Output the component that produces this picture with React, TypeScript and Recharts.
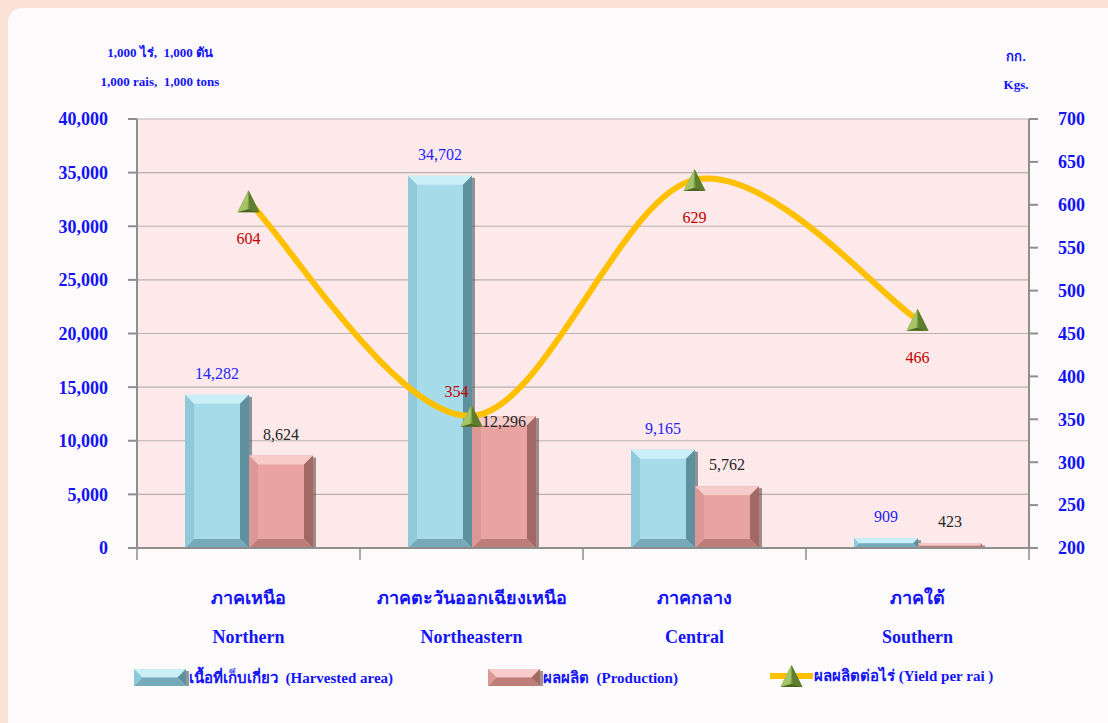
import React from 'react';
import { ComposedChart, Bar, Line, XAxis, YAxis, CartesianGrid, LabelList } from 'recharts';

const regionsTh = ['ภาคเหนือ', 'ภาคตะวันออกเฉียงเหนือ', 'ภาคกลาง', 'ภาคใต้'];
const regionsEn = ['Northern', 'Northeastern', 'Central', 'Southern'];
const harvestedArea = [14282, 34702, 9165, 909];
const production = [8624, 12296, 5762, 423];
const yieldPerRai = [604, 354, 629, 466];
const leftTicks = [0, 5000, 10000, 15000, 20000, 25000, 30000, 35000, 40000];
const rightTicks = [200, 250, 300, 350, 400, 450, 500, 550, 600, 650, 700];

const data = regionsEn.map((en, i) => ({
  en,
  th: regionsTh[i],
  area: harvestedArea[i],
  prod: production[i],
  yld: yieldPerRai[i],
}));

const SERIF = '"Times New Roman", "Liberation Serif", serif';
const BLUE = '#1414F5';
const AXIS = '#8e8e8e';
const W = 1108;
const H = 723;
const PLOT_LEFT = 137;
const PLOT_RIGHT = 1029;
const HALF_BAND = (PLOT_RIGHT - PLOT_LEFT) / (regionsEn.length * 2);

const fmt = (v: number) => v.toLocaleString('en-US');

// Smooth curve like a spreadsheet's "smoothed line" (Catmull-Rom style Bezier)
const smoothCurve = (context: any) => {
  let pts: number[][] = [];
  return {
    areaStart() {},
    areaEnd() {},
    lineStart() {
      pts = [];
    },
    point(x: number, y: number) {
      pts.push([+x, +y]);
    },
    lineEnd() {
      const n = pts.length;
      if (!n) return;
      context.moveTo(pts[0][0], pts[0][1]);
      for (let i = 0; i < n - 1; i++) {
        const p0 = pts[i - 1] || pts[i];
        const p1 = pts[i];
        const p2 = pts[i + 1];
        const p3 = pts[i + 2] || pts[i + 1];
        context.bezierCurveTo(
          p1[0] + (p2[0] - p0[0]) / 6,
          p1[1] + (p2[1] - p0[1]) / 6,
          p2[0] - (p3[0] - p1[0]) / 6,
          p2[1] - (p3[1] - p1[1]) / 6,
          p2[0],
          p2[1]
        );
      }
    },
  };
};

const bevelShape = (cols: { main: string; top: string; right: string; bottom: string; left: string; shadow: string }) =>
  (props: any) => {
    const { x, y, width, height } = props;
    if (height <= 0 || width <= 0) return <g />;
    const b = Math.min(9, height / 2, width / 2);
    const r = x + width;
    const bt = y + height;
    return (
      <g>
        <rect x={r} y={y + 2} width={3} height={height - 2} fill={cols.shadow} opacity={0.55} />
        <rect x={x} y={y} width={width} height={height} fill={cols.main} />
        <polygon points={`${x},${y} ${r},${y} ${r - b},${y + b} ${x + b},${y + b}`} fill={cols.top} />
        <polygon points={`${r},${y} ${r},${bt} ${r - b},${bt - b} ${r - b},${y + b}`} fill={cols.right} />
        <polygon points={`${x},${bt} ${r},${bt} ${r - b},${bt - b} ${x + b},${bt - b}`} fill={cols.bottom} />
        <polygon points={`${x},${y} ${x + b},${y + b} ${x + b},${bt - b} ${x},${bt}`} fill={cols.left} />
      </g>
    );
  };

const blueCols = { main: '#A6DCEA', top: '#CBEFF7', right: '#5F909D', bottom: '#77AAB8', left: '#90CADA', shadow: '#2f4a52' };
const pinkCols = { main: '#E9A4A1', top: '#F6CBC9', right: '#A26864', bottom: '#BD7E7A', left: '#DC9895', shadow: '#5a3a38' };

const Triangle = ({ cx, cy, size = 22 }: { cx: number; cy: number; size?: number }) => {
  const h = size;
  const w = size;
  const top = cy - h / 2;
  const bot = cy + h / 2;
  return (
    <g>
      <polygon points={`${cx},${top} ${cx - w / 2},${bot} ${cx + w / 2},${bot}`} fill="#7E9F44" />
      <polygon points={`${cx},${top} ${cx - w / 2},${bot} ${cx - 1},${bot - 3}`} fill="#A5C468" />
      <polygon points={`${cx},${top} ${cx + w / 2},${bot} ${cx + 1},${bot - 3}`} fill="#5E7D2E" />
      <polygon points={`${cx - w / 2},${bot} ${cx + w / 2},${bot} ${cx},${bot - 3}`} fill="#4B6422" />
    </g>
  );
};

const renderDot = (props: any) => {
  const { cx, cy, index } = props;
  return <Triangle key={`dot-${index}`} cx={cx} cy={cy} />;
};

const areaLabel = (props: any) => {
  const { x, y, width, value, index } = props;
  return (
    <text key={`al-${index}`} x={x + width / 2} y={y - 16} textAnchor="middle" fill="#2323FF" fontSize={16} fontFamily={SERIF}>
      {fmt(value)}
    </text>
  );
};

const prodLabel = (props: any) => {
  const { x, y, width, value, index } = props;
  const dy = index === 1 ? 11 : -16;
  return (
    <text key={`pl-${index}`} x={x + width / 2} y={y + dy} textAnchor="middle" fill="#262626" fontSize={16} fontFamily={SERIF}>
      {fmt(value)}
    </text>
  );
};

const yieldLabel = (props: any) => {
  const { x, y, value, index } = props;
  const above = index === 1;
  return (
    <text key={`yl-${index}`} x={above ? x - 15 : x} y={above ? y - 19 : y + 43} textAnchor="middle" fill="#C00000" fontSize={16} fontFamily={SERIF}>
      {value}
    </text>
  );
};

const XTick = (props: any) => {
  const { x, y, payload, index } = props;
  const i = regionsEn.indexOf(payload.value);
  return (
    <g>
      <line x1={x - HALF_BAND} x2={x - HALF_BAND} y1={y} y2={y + 12} stroke={AXIS} strokeWidth={1.5} />
      {index === regionsEn.length - 1 && (
        <line x1={x + HALF_BAND} x2={x + HALF_BAND} y1={y} y2={y + 12} stroke={AXIS} strokeWidth={1.5} />
      )}
      <text x={x} y={y + 56} textAnchor="middle" fill={BLUE} fontSize={18} fontWeight="bold" fontFamily={SERIF}>
        {regionsTh[i]}
      </text>
      <text x={x} y={y + 95} textAnchor="middle" fill={BLUE} fontSize={18} fontWeight="bold" fontFamily={SERIF}>
        {payload.value}
      </text>
    </g>
  );
};

const LegendBox = ({ cols }: { cols: typeof blueCols }) => (
  <svg width={56} height={20} style={{ display: 'block' }}>
    {bevelShape(cols)({ x: 1, y: 1, width: 52, height: 17 })}
  </svg>
);

const textStyle: React.CSSProperties = {
  position: 'absolute',
  fontFamily: SERIF,
  fontWeight: 'bold',
  color: BLUE,
  whiteSpace: 'nowrap',
  lineHeight: 1,
};

export default function App() {
  return (
    <div style={{ position: 'absolute', left: 0, top: 0, width: W, height: H, background: '#FCE1D6', overflow: 'hidden' }}>
      <div style={{ position: 'absolute', left: 8, top: 8, width: W, height: H, background: '#FCFAFB', borderTopLeftRadius: 14 }} />
      <div style={{ position: 'absolute', left: 0, top: 0 }}>
        <ComposedChart width={W} height={H} data={data} margin={{ top: 119, right: 19, left: 37, bottom: 75 }} barGap={0}>
          <CartesianGrid yAxisId="left" vertical={false} stroke="#b9b1b1" strokeWidth={1.2} fill="#FDE9E9" fillOpacity={1} />
          <XAxis
            dataKey="en"
            height={100}
            tick={<XTick />}
            tickLine={false}
            tickSize={0}
            tickMargin={0}
            axisLine={{ stroke: AXIS, strokeWidth: 2 }}
            interval={0}
          />
          <YAxis
            yAxisId="left"
            width={100}
            domain={[0, 40000]}
            ticks={leftTicks}
            interval={0}
            tickFormatter={fmt}
            tick={{ fill: BLUE, fontSize: 18, fontWeight: 'bold', fontFamily: SERIF }}
            axisLine={{ stroke: AXIS, strokeWidth: 2 }}
            tickLine={{ stroke: AXIS, strokeWidth: 2 }}
            tickSize={9}
            tickMargin={20}
          />
          <YAxis
            yAxisId="right"
            orientation="right"
            width={60}
            domain={[200, 700]}
            ticks={rightTicks}
            interval={0}
            tick={{ fill: BLUE, fontSize: 18, fontWeight: 'bold', fontFamily: SERIF }}
            axisLine={{ stroke: AXIS, strokeWidth: 2 }}
            tickLine={{ stroke: AXIS, strokeWidth: 2 }}
            tickSize={9}
            tickMargin={20}
          />
          <Bar yAxisId="left" dataKey="area" barSize={64} shape={bevelShape(blueCols)} isAnimationActive={false}>
            <LabelList dataKey="area" content={areaLabel} />
          </Bar>
          <Bar yAxisId="left" dataKey="prod" barSize={64} shape={bevelShape(pinkCols)} isAnimationActive={false}>
            <LabelList dataKey="prod" content={prodLabel} />
          </Bar>
          <Line
            yAxisId="right"
            dataKey="yld"
            type={smoothCurve as any}
            stroke="#FFC000"
            strokeWidth={6}
            dot={renderDot}
            activeDot={false}
            isAnimationActive={false}
          >
            <LabelList dataKey="yld" content={yieldLabel} />
          </Line>
        </ComposedChart>
      </div>

      <div style={{ ...textStyle, left: 160, top: 46, fontSize: 13, transform: 'translateX(-50%)' }}>1,000 ไร่,&nbsp; 1,000 ตัน</div>
      <div style={{ ...textStyle, left: 160, top: 75, fontSize: 13, transform: 'translateX(-50%)' }}>1,000 rais,&nbsp; 1,000 tons</div>
      <div style={{ ...textStyle, left: 1016, top: 50, fontSize: 13, transform: 'translateX(-50%)' }}>กก.</div>
      <div style={{ ...textStyle, left: 1016, top: 78, fontSize: 13, transform: 'translateX(-50%)' }}>Kgs.</div>

      <div style={{ position: 'absolute', left: 133, top: 666, display: 'flex', alignItems: 'center' }}>
        <LegendBox cols={blueCols} />
        <span style={{ fontFamily: SERIF, fontWeight: 'bold', color: BLUE, fontSize: 15, whiteSpace: 'pre' }}>เนื้อที่เก็บเกี่ยว  (Harvested area)</span>
      </div>
      <div style={{ position: 'absolute', left: 487, top: 666, display: 'flex', alignItems: 'center' }}>
        <LegendBox cols={pinkCols} />
        <span style={{ fontFamily: SERIF, fontWeight: 'bold', color: BLUE, fontSize: 15, whiteSpace: 'pre' }}>ผลผลิต  (Production)</span>
      </div>
      <div style={{ position: 'absolute', left: 770, top: 664, display: 'flex', alignItems: 'center' }}>
        <svg width={44} height={24} style={{ display: 'block' }}>
          <line x1={0} x2={43} y1={12} y2={12} stroke="#FFC000" strokeWidth={6} />
          <Triangle cx={21.5} cy={12} size={22} />
        </svg>
        <span style={{ fontFamily: SERIF, fontWeight: 'bold', color: BLUE, fontSize: 15, whiteSpace: 'pre' }}>ผลผลิตต่อไร่ (Yield per rai )</span>
      </div>
    </div>
  );
}
